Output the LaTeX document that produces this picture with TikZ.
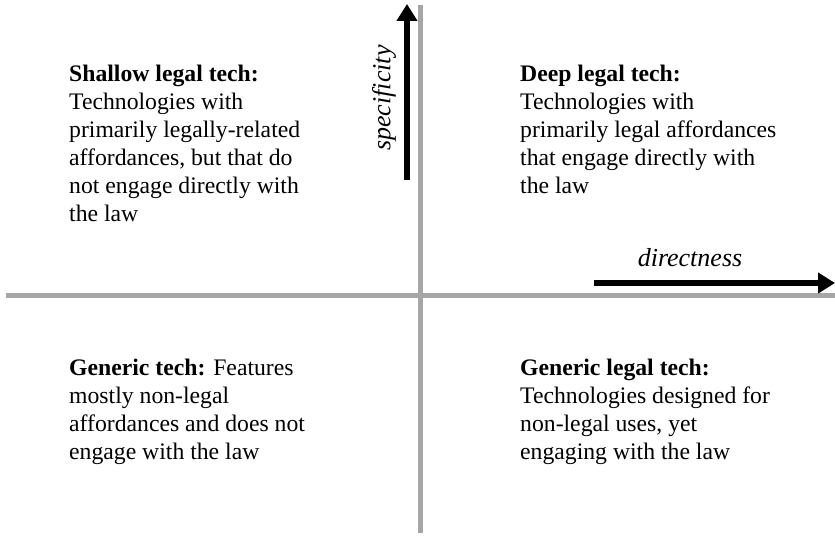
\documentclass[tikz,border=0pt]{standalone}
\usepackage{fontspec}
\setmainfont{Liberation Serif}
\usetikzlibrary{arrows.meta}
\begin{document}
\begin{tikzpicture}[x=1pt,y=-1pt,
  axisline/.style={draw=black!35,line width=5pt},
  dirarrow/.style={draw=black,line width=6.5pt,-{Triangle[length=17pt,width=20pt]}},
  quadtext/.style={anchor=north west,inner sep=0pt,align=left,
    font=\fontsize{23.7}{27.9}\selectfont},
  axislabel/.style={inner sep=0pt,font=\fontsize{26}{30}\selectfont\itshape}]
\useasboundingbox (0,0) rectangle (835,537);
% quadrant axes
\coordinate (vtop) at (420,5);
\coordinate (vbot) at (420,533);
\coordinate (hleft) at (6,296);
\coordinate (hright) at (835,296);
\draw[axisline] (vtop) -- (vbot);
\draw[axisline] (hleft) -- (hright);
% dimension arrows
\coordinate (sstart) at (407,180);
\coordinate (send) at (407,4);
\coordinate (dstart) at (594,283);
\coordinate (dend) at (835,283);
\draw[dirarrow] (sstart) -- (send);
\draw[dirarrow] (dstart) -- (dend);
\node[axislabel,rotate=90] (spec) at (384,98) {specificity};
\node[axislabel,anchor=base] (dir) at (690,267) {directness};
% quadrant descriptions
\node[quadtext] (shallow) at (69,65) {\textbf{Shallow legal tech:}\\Technologies with\\primarily legally-related\\affordances, but that do\\not engage directly with\\the law};
\node[quadtext] (deep) at (520,65) {\textbf{Deep legal tech:}\\Technologies with\\primarily legal affordances\\that engage directly with\\the law};
\node[quadtext] (generic) at (69,359) {\textbf{Generic tech:} Features\\mostly non-legal\\affordances and does not\\engage with the law};
\node[quadtext] (genlegal) at (520,359) {\textbf{Generic legal tech:}\\Technologies designed for\\non-legal uses, yet\\engaging with the law};
\end{tikzpicture}
\end{document}
